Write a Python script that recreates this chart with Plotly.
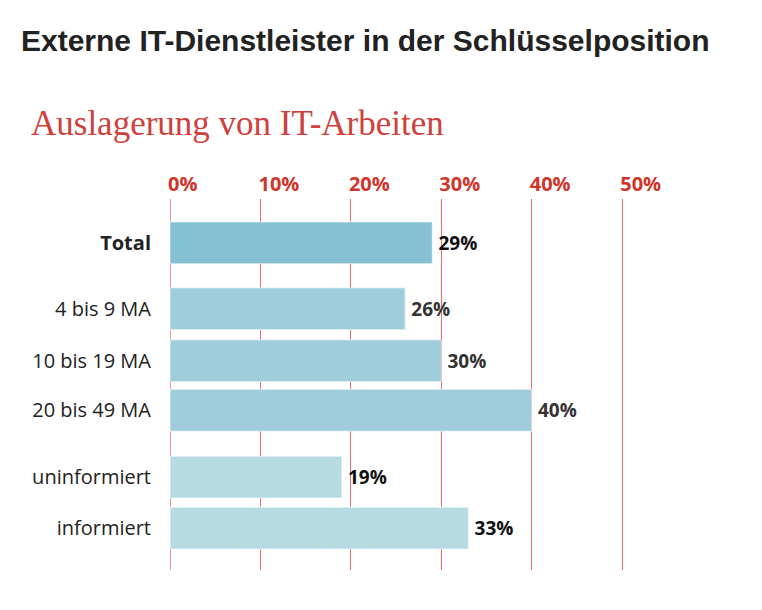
import plotly.graph_objects as go

categories = ["Total", "4 bis 9 MA", "10 bis 19 MA", "20 bis 49 MA", "uninformiert", "informiert"]
values = [29, 26, 30, 40, 19, 33]
tick_values = [0, 10, 20, 30, 40, 50]
tick_labels = ["0%", "10%", "20%", "30%", "40%", "50%"]

# layout helpers (row positions / styles)
row_pos = [0, 1.29, 2.31, 3.28, 4.59, 5.59]
bar_colors = ["#86c0d3", "#9fcddb", "#9fcddb", "#9fcddb", "#b6dbe3", "#b6dbe3"]
label_colors = ["#111111", "#333333", "#333333", "#333333", "#111111", "#111111"]
cat_text = ["<b>Total</b>"] + categories[1:]

W, H = 762, 610
ML, MR, MT, MB = 170, 138, 199, 40

fig = go.Figure(go.Bar(
    x=values, y=row_pos, orientation="h", width=0.82,
    marker=dict(color=bar_colors, line=dict(color="rgba(255,255,255,0.6)", width=1)),
    text=[f"\u2009<b>{v}%</b>" for v in values], textposition="outside",
    textfont=dict(family="Open Sans", size=19, color=label_colors),
    cliponaxis=False, hoverinfo="skip",
))

fig.update_layout(
    width=W, height=H, margin=dict(l=ML, r=MR, t=MT, b=MB),
    paper_bgcolor="white", plot_bgcolor="white", showlegend=False,
    xaxis=dict(side="top", range=[0, 50.2], tickvals=tick_values, ticktext=tick_labels,
               showgrid=True, gridcolor="#ea6f6a", gridwidth=1.2,
               zeroline=True, zerolinecolor="#ee9a98", zerolinewidth=1.2,
               showline=False, ticks="", ticklabelstandoff=3,
               ticklabelposition="outside right", ticklabelshift=-2,
               tickfont=dict(family="Open Sans", size=20, color="#d0352c", weight="bold")),
    yaxis=dict(range=[6.41, -0.86], tickvals=row_pos, ticktext=cat_text,
               showgrid=False, zeroline=False, showline=False, ticks="",
               ticklabelstandoff=18,
               tickfont=dict(family="Open Sans", size=20, color="#222222")),
    annotations=[
        dict(text="<b>Externe IT-Dienstleister in der Schlüsselposition</b>",
             xref="paper", yref="paper", x=(19 - ML) / (W - ML - MR), y=1 + (MT - 40) / (H - MT - MB),
             xanchor="left", yanchor="middle", showarrow=False,
             font=dict(family="Liberation Sans", size=30, color="#222222")),
        dict(text="Auslagerung von IT-Arbeiten",
             xref="paper", yref="paper", x=(29 - ML) / (W - ML - MR), y=1 + (MT - 123) / (H - MT - MB),
             xanchor="left", yanchor="middle", showarrow=False,
             font=dict(family="Liberation Serif", size=35, color="#cf3f3c")),
    ],
)

fig.write_html("out.html")
